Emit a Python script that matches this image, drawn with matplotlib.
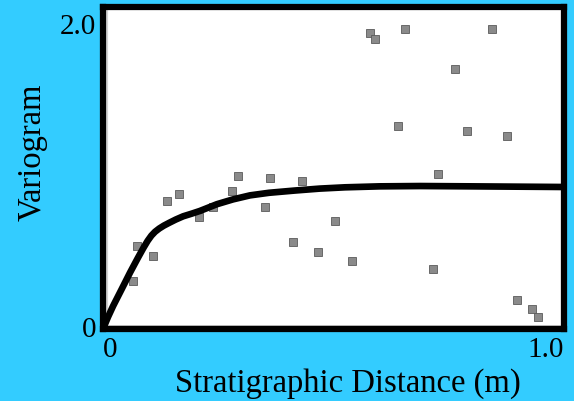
import matplotlib
matplotlib.use('Agg')
import matplotlib.pyplot as plt
from matplotlib.transforms import ScaledTranslation

# experimental variogram points (distance in m, variogram value)
lag_dist = [0.293, 0.362, 0.432, 0.165, 0.139, 0.280, 0.208, 0.239, 0.351, 0.503,
            0.412, 0.466, 0.074, 0.108, 0.065, 0.579, 0.590, 0.655, 0.844, 0.764,
            0.640, 0.790, 0.876, 0.727, 0.540, 0.716, 0.898, 0.931, 0.944]
gamma_pts = [0.950, 0.938, 0.919, 0.839, 0.795, 0.857, 0.696, 0.758, 0.758, 0.671,
             0.540, 0.478, 0.516, 0.453, 0.298, 1.839, 1.801, 1.863, 1.863, 1.615,
             1.261, 1.230, 1.199, 0.963, 0.422, 0.373, 0.180, 0.124, 0.075]

# fitted model curve
model_dist = [0.0, 0.011, 0.022, 0.041, 0.059, 0.076, 0.088, 0.097, 0.105, 0.113,
              0.122, 0.132, 0.144, 0.158, 0.174, 0.192, 0.210, 0.247, 0.282, 0.319,
              0.360, 0.416, 0.470, 0.525, 0.600, 0.688, 0.800, 1.0]
model_gamma = [0.0, 0.075, 0.143, 0.250, 0.352, 0.443, 0.505, 0.548, 0.580, 0.604,
               0.624, 0.642, 0.660, 0.680, 0.700, 0.716, 0.733, 0.775, 0.805, 0.830,
               0.846, 0.860, 0.872, 0.880, 0.886, 0.888, 0.886, 0.882]

bg = '#33ccff'
plt.rcParams['font.family'] = ['Liberation Serif', 'DejaVu Serif']

fig = plt.figure(figsize=(5.74, 4.02), dpi=100, facecolor=bg)
ax = fig.add_axes([0.1794, 0.1791, 0.8031, 0.8010])
ax.set_facecolor('white')

# faint noisy edge inside the frame
ax.axvline(0.007, color='#d4d4d4', lw=3, zorder=1)
ax.axhline(0.02, color='#c8c8c8', lw=2, zorder=1)

ax.plot(lag_dist, gamma_pts, 's', ms=5.5, color='#8a8a8a', mec='#5a5a5a', mew=0.6, zorder=2)
ax.plot(model_dist, model_gamma, '-', color='black', lw=4.8, solid_capstyle='butt',
        solid_joinstyle='round', zorder=3)

ax.set_xlim(0, 1.0)
ax.set_ylim(0, 2.0)

for s in ax.spines.values():
    s.set_linewidth(4.5)
    s.set_color('black')

ax.set_xticks([0, 1.0])
ax.set_xticklabels(['0', '1.0'], fontsize=21)
ax.set_yticks([0, 2.0])
ax.set_yticklabels(['0', '2.0'], fontsize=21)
ax.tick_params(length=0, pad=5)
xl = ax.get_xticklabels()
xl[0].set_ha('left')
xl[1].set_ha('right')
yl = ax.get_yticklabels()
yl[0].set_va('center')
yl[1].set_va('top')
yl[1].set_transform(yl[1].get_transform() + ScaledTranslation(0, -4 / 72, fig.dpi_scale_trans))

fig.text(0.606, 0.047, 'Stratigraphic Distance (m)', fontsize=23.5, ha='center', va='center')
fig.text(0.056, 0.622, 'Variogram', fontsize=23.5, rotation=90, ha='center', va='center')

fig.savefig('out.png', dpi=100, facecolor=bg)
